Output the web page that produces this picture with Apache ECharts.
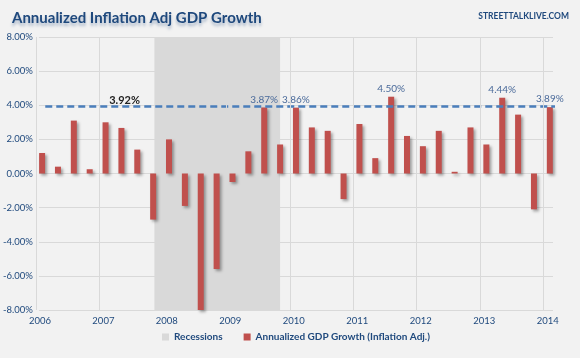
<!DOCTYPE html>
<html><head><meta charset="utf-8">
<script src="https://cdn.jsdelivr.net/npm/echarts@6/dist/echarts.min.js"></script>
<style>html,body{margin:0;padding:0;background:#f2f2f2}#c{width:580px;height:358px}</style>
</head><body><div id="c"></div>
<script>
// ---- data ----
var years = [2006, 2007, 2008, 2009, 2010, 2011, 2012, 2013, 2014];
var quarters = ['2006Q1','2006Q2','2006Q3','2006Q4','2007Q1','2007Q2','2007Q3','2007Q4',
  '2008Q1','2008Q2','2008Q3','2008Q4','2009Q1','2009Q2','2009Q3','2009Q4',
  '2010Q1','2010Q2','2010Q3','2010Q4','2011Q1','2011Q2','2011Q3','2011Q4',
  '2012Q1','2012Q2','2012Q3','2012Q4','2013Q1','2013Q2','2013Q3','2013Q4','2014Q1'];
var gdpGrowth = [1.2, 0.4, 3.1, 0.25, 3.0, 2.67, 1.4, -2.7,
  2.0, -1.9, -8.0, -5.6, -0.5, 1.3, 3.87, 1.7,
  3.86, 2.7, 2.5, -1.5, 2.9, 0.9, 4.50, 2.2,
  1.6, 2.5, 0.1, 2.7, 1.7, 4.44, 3.45, -2.1, 3.89];
var labeledQuarters = ['2009Q3', '2010Q1', '2011Q3', '2013Q2', '2014Q1'];
var recession = [2007.82, 2009.80];
var averageGrowth = 3.92;
var yTicks = [-8, -6, -4, -2, 0, 2, 4, 6, 8];

// ---- helpers ----
function qPos(q) { return +q.slice(0, 4) + (+q.slice(5) - 1) / 4 + 0.05; }
var blue = '#1f497d';
var font = 'Lato, "Liberation Sans", sans-serif';

var barData = quarters.map(function (q, i) {
  var d = { value: [qPos(q), gdpGrowth[i]] };
  if (labeledQuarters.indexOf(q) >= 0) {
    d.label = { show: true, position: 'top', distance: 3, color: '#4a6a9a', fontSize: 10,
      fontFamily: font, formatter: function (p) { return p.value[1].toFixed(2) + '%'; } };
  }
  return d;
});

var avgLine = [
  { value: [qPos(quarters[0]) + 0.05, averageGrowth] },
  { value: [2007.35, averageGrowth], label: { show: true, position: 'top', distance: 1,
      color: '#222', fontWeight: 'bold', fontSize: 11, fontFamily: font,
      formatter: function (p) { return p.value[1].toFixed(2) + '%'; } } },
  { value: [2014.36, averageGrowth] }
];

var chart = echarts.init(document.getElementById('c'), null, { renderer: 'canvas' });
chart.setOption({
  backgroundColor: '#f2f2f2',
  animation: false,
  title: [{
    text: 'Annualized Inflation Adj GDP Growth', left: 7, top: 6,
    textStyle: { color: blue, fontSize: 15, fontWeight: 'bold', fontFamily: font,
      textShadowColor: 'rgba(31,73,125,0.35)', textShadowBlur: 3, textShadowOffsetY: 3 }
  }, {
    text: 'STREETTALKLIVE.COM', right: 6, top: 7,
    textStyle: { color: blue, fontSize: 8.5, fontWeight: 'bold', fontFamily: font }
  }],
  legend: {
    bottom: 11, left: 157, itemWidth: 7, itemHeight: 7, itemGap: 21, icon: 'rect',
    textStyle: { color: blue, fontSize: 10, fontWeight: 'bold', fontFamily: font },
    data: ['Recessions', 'Annualized GDP Growth (Inflation Adj.)']
  },
  grid: { left: 35.5, right: 27, top: 37, bottom: 48, containLabel: false },
  xAxis: {
    type: 'value', min: years[0], max: 2014.1, interval: 1,
    axisLine: { show: false }, axisTick: { show: false }, splitLine: { show: false },
    axisLabel: { showMaxLabel: false, margin: 6, padding: [0, 0, 0, 2], color: blue,
      fontSize: 9.5, fontFamily: font, formatter: function (v) { return years.indexOf(v) >= 0 ? String(v) : ''; } }
  },
  yAxis: {
    type: 'value', min: yTicks[0], max: yTicks[yTicks.length - 1], interval: 2,
    axisLine: { show: false }, axisTick: { show: false },
    splitLine: { lineStyle: { color: '#d9d9d9', width: 1 } },
    axisLabel: { color: blue, fontSize: 9.5, fontFamily: font, margin: 6,
      formatter: function (v) { return v.toFixed(2) + '%'; } }
  },
  series: [{
    name: 'Recessions', type: 'bar', data: [], itemStyle: { color: '#d9d9d9' },
    markArea: { silent: true, itemStyle: { color: '#d9d9d9' },
      data: [[{ xAxis: recession[0] }, { xAxis: recession[1] }]] },
    markLine: { silent: true, symbol: 'none', label: { show: false },
      lineStyle: { color: '#d9d9d9', type: 'solid', width: 1 },
      data: years.map(function (y) { return { xAxis: y }; }) },
    z: 1
  }, {
    name: 'Annualized GDP Growth (Inflation Adj.)', type: 'bar', barWidth: 6, clip: false,
    itemStyle: { color: '#c0504d', shadowColor: 'rgba(0,0,0,0.35)', shadowBlur: 3,
      shadowOffsetX: 2, shadowOffsetY: 2 },
    data: barData, z: 3
  }, {
    name: 'avg', type: 'line', clip: false, symbol: 'circle', symbolSize: 0.01,
    showSymbol: true, showAllSymbol: true, data: avgLine,
    itemStyle: { color: '#4a7ebb' },
    lineStyle: { color: '#4a7ebb', width: 2.5, type: [7, 4] }, z: 4
  }]
});
</script></body></html>
